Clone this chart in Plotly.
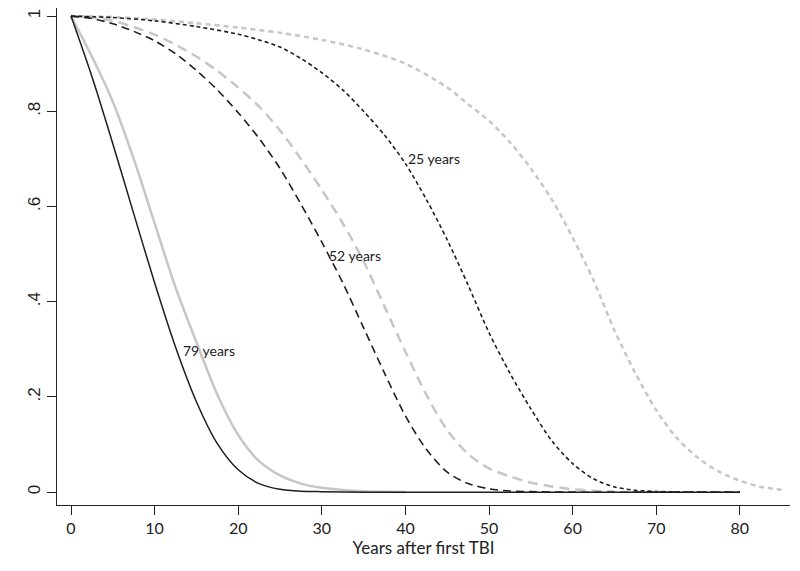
import plotly.graph_objects as go

# Anos após o primeiro TBI (grade de leitura)
t_79 = [0, 2.5, 5, 7.5, 10, 12.5, 15, 17.5, 20, 22.5, 25, 27.5, 30, 35, 40, 50, 60, 70, 80]
s_79_black = [1.0, 0.873, 0.732, 0.585, 0.44, 0.305, 0.19, 0.102, 0.047, 0.018, 0.006, 0.002, 0.001, 0.0, 0.0, 0.0, 0.0, 0.0, 0.0]

t_79_gray = [0, 2.5, 5, 7.5, 10, 12.5, 15, 17.5, 20, 22.5, 25, 27.5, 30, 32.5, 35, 40]
s_79_gray = [1.0, 0.915, 0.82, 0.7, 0.565, 0.43, 0.315, 0.205, 0.12, 0.065, 0.035, 0.018, 0.009, 0.0045, 0.002, 0.0005]

t_52 = [0, 2.5, 5, 7.5, 10, 12.5, 15, 17.5, 20, 22.5, 25, 27.5, 30, 32.5, 35, 37.5, 40, 42.5, 45, 47.5, 50, 52.5, 55, 60, 70, 80]
s_52_black = [1.0, 0.995, 0.984, 0.968, 0.948, 0.921, 0.886, 0.845, 0.797, 0.743, 0.68, 0.605, 0.525, 0.44, 0.345, 0.25, 0.16, 0.09, 0.042, 0.018, 0.007, 0.0025, 0.001, 0.0, 0.0, 0.0]

t_52_gray = [0, 2.5, 5, 7.5, 10, 12.5, 15, 17.5, 20, 22.5, 25, 27.5, 30, 32.5, 35, 37.5, 40, 42.5, 45, 47.5, 50, 52.5, 55, 57.5, 60, 62.5, 65]
s_52_gray = [1.0, 0.997, 0.99, 0.977, 0.961, 0.94, 0.915, 0.885, 0.85, 0.81, 0.76, 0.7, 0.635, 0.565, 0.485, 0.39, 0.295, 0.205, 0.13, 0.08, 0.05, 0.033, 0.02, 0.012, 0.006, 0.003, 0.0015]

t_25 = [0, 5, 10, 15, 20, 22.5, 25, 27.5, 30, 32.5, 35, 37.5, 40, 42.5, 45, 47.5, 50, 52.5, 55, 57.5, 60, 62.5, 65, 67.5, 70, 75, 80]
s_25_black = [1.0, 0.997, 0.99, 0.978, 0.962, 0.95, 0.935, 0.911, 0.881, 0.845, 0.8, 0.75, 0.69, 0.615, 0.53, 0.435, 0.335, 0.25, 0.175, 0.108, 0.06, 0.028, 0.011, 0.004, 0.0015, 0.0, 0.0]

t_25_gray = [0, 5, 10, 15, 20, 25, 30, 35, 40, 45, 47.5, 50, 52.5, 55, 57.5, 60, 62.5, 65, 67.5, 70, 72.5, 75, 77.5, 80, 82.5, 85]
s_25_gray = [1.0, 0.998, 0.993, 0.985, 0.976, 0.965, 0.95, 0.93, 0.9, 0.85, 0.815, 0.78, 0.735, 0.68, 0.615, 0.535, 0.445, 0.34, 0.25, 0.172, 0.113, 0.072, 0.043, 0.024, 0.011, 0.005]

x_ticks = [0, 10, 20, 30, 40, 50, 60, 70, 80]
y_ticks = [0, 0.2, 0.4, 0.6, 0.8, 1.0]
y_tick_text = ["0", ".2", ".4", ".6", ".8", "1"]

labels = ["79 years", "52 years", "25 years"]
label_x = [13.2, 30.6, 40.1]
label_y = [0.298, 0.498, 0.70]

BLACK = "#1e1e1e"
GRAY = "#c6c6c6"

fig = go.Figure()

# curvas cinzas primeiro, pretas por cima
fig.add_trace(go.Scatter(x=t_79_gray, y=s_79_gray, mode="lines", line_shape="spline",
                         line=dict(color=GRAY, width=2.5, smoothing=0.8)))
fig.add_trace(go.Scatter(x=t_52_gray, y=s_52_gray, mode="lines", line_shape="spline",
                         line=dict(color=GRAY, width=2.5, dash="10px,6px", smoothing=0.8)))
fig.add_trace(go.Scatter(x=t_25_gray, y=s_25_gray, mode="lines", line_shape="spline",
                         line=dict(color=GRAY, width=2.5, dash="5px,4px", smoothing=0.8)))
fig.add_trace(go.Scatter(x=t_79, y=s_79_black, mode="lines", line_shape="spline",
                         line=dict(color=BLACK, width=1.5, smoothing=0.8)))
fig.add_trace(go.Scatter(x=t_52, y=s_52_black, mode="lines", line_shape="spline",
                         line=dict(color=BLACK, width=1.6, dash="8px,5px", smoothing=0.8)))
fig.add_trace(go.Scatter(x=t_25, y=s_25_black, mode="lines", line_shape="spline",
                         line=dict(color=BLACK, width=1.6, dash="4px,3px", smoothing=0.8)))

for txt, lx, ly in zip(labels, label_x, label_y):
    fig.add_annotation(x=lx, y=ly, text=txt, showarrow=False, xanchor="left", yanchor="middle",
                       font=dict(family="Lato", size=14, color="#222222"))

# a página tem margem de 8px no body, por isso 792x563
fig.update_layout(
    width=792, height=563,
    margin=dict(l=49, r=10, t=0, b=66),
    paper_bgcolor="white", plot_bgcolor="white",
    showlegend=False,
    xaxis=dict(
        range=[-1.675, 86], tickvals=x_ticks, showgrid=False, zeroline=False, automargin=False,
        showline=True, linecolor="#222222", linewidth=1.2,
        ticks="outside", ticklen=9, tickcolor="#222222",
        tickfont=dict(family="Lato", size=16, color="#222222"),
        title=dict(text="Years after first TBI", font=dict(family="Lato", size=17, color="#222222"), standoff=4),
    ),
    yaxis=dict(
        range=[-0.027, 1.017], tickvals=y_ticks, ticktext=y_tick_text, tickangle=-90,
        showgrid=False, zeroline=False, automargin=False,
        showline=True, linecolor="#222222", linewidth=1.2,
        ticks="outside", ticklen=9, tickcolor="#222222",
        tickfont=dict(family="Liberation Sans", size=17, color="#222222"),
    ),
)

fig.write_html("out.html")
